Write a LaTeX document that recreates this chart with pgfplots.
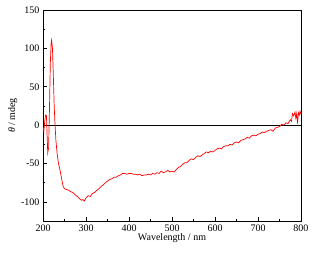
\documentclass[border=0pt]{standalone}
\usepackage{pgfplots}
\pgfplotsset{compat=1.18}
\usepackage{fontspec}
\setmainfont{Liberation Serif}
\begin{document}
\begin{tikzpicture}
\begin{axis}[
  scale only axis, width=258pt, height=211pt,
  xmin=200, xmax=800, ymin=-125, ymax=150,
  xtick={200,300,...,800}, ytick={-100,-50,0,50,100,150},
  minor x tick num=1, minor y tick num=1,
  xtick pos=bottom, ytick pos=left,
  tick align=inside,
  major tick length=4pt, minor tick length=2pt,
  axis line style={line width=0.9pt},
  every tick/.style={black, line width=0.6pt},
  /pgf/number format/assume math mode=true,
  ticklabel style={font=\fontsize{10}{12}\selectfont},
  xlabel={Wavelength / nm}, ylabel={\textit{θ} / mdeg},
  label style={font=\fontsize{10}{12}\selectfont},
  xlabel style={yshift=5pt},
  ylabel style={yshift=-3pt},
  clip=true,
]
\coordinate (bl) at (rel axis cs:-0.1667,-0.1706);
\coordinate (tr) at (rel axis cs:1.0659,1.0474);
\addplot[black, line width=0.9pt] coordinates {(200,0) (800,0)};
\addplot[red, line width=0.7pt] coordinates {
(200,-3)(202,-8)(204,5)(206,13)(208,12)(210,-20)(211,-36)(213,-30)(215,20)(217,80)(219,108)(220,111)(222,100)(224,65)(226,25)(228,0)(230,-20)(233,-38)(236,-50)(240,-60)(244,-72)(247,-80)(250,-83)(255,-84)(260,-85)(265,-87)(270,-88)(275,-91)(280,-93)(285,-96)(290,-98)(293,-97)(296,-99)(300,-95)(305,-92)(310,-93)(315,-89)(320,-88)(325,-85)(330,-83)(335,-80)(340,-78)(345,-75)(350,-73)(355,-71)(360,-70)(365,-68)(370,-68)(375,-66)(380,-65)(385,-63)(390,-63)(395,-64)(400,-63)(405,-63)(410,-64)(415,-64)(420,-65)(425,-64)(430,-66)(435,-65)(440,-65)(445,-64)(450,-65)(455,-63)(460,-64)(465,-62)(470,-63)(475,-60)(480,-62)(485,-61)(490,-59)(495,-61)(500,-60)(505,-61)(510,-58)(515,-55)(520,-54)(525,-51)(530,-49)(535,-49)(540,-46)(545,-44)(550,-45)(555,-42)(560,-40)(565,-41)(570,-39)(575,-37)(580,-35)(585,-36)(590,-34)(595,-35)(600,-33)(605,-31)(610,-30)(615,-31)(620,-28)(625,-27)(630,-27)(635,-25)(640,-26)(645,-23)(650,-22)(655,-23)(660,-20)(665,-19)(670,-18)(675,-16)(680,-17)(685,-14)(690,-13)(695,-14)(700,-12)(705,-11)(710,-9)(715,-10)(720,-8)(725,-7)(730,-6)(735,-8)(740,-4)(745,-3)(750,-2)(755,1)(760,0)(765,3)(770,2)(775,7)(778,5)(780,15)(783,12)(786,17)(788,9)(790,15)(792,2)(794,16)(796,13)(798,18)(800,14)
};
\end{axis}
\pgfresetboundingbox
\useasboundingbox (bl) rectangle (tr);
\end{tikzpicture}
\end{document}
